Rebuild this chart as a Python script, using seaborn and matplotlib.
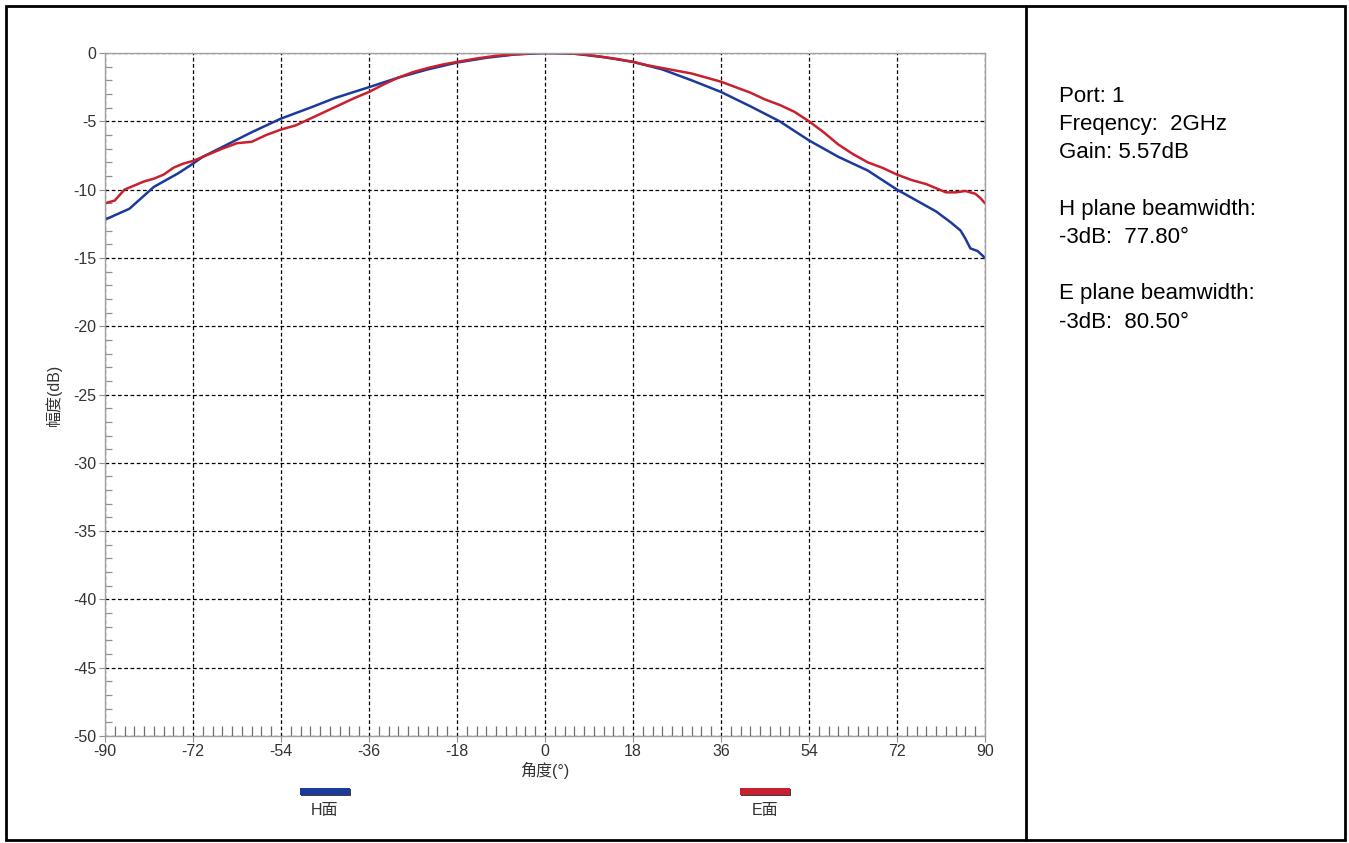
import numpy as np
import pandas as pd
import matplotlib
matplotlib.use("Agg")
import matplotlib.pyplot as plt
from matplotlib.patches import Rectangle
from matplotlib.ticker import MultipleLocator
import seaborn as sns

# H plane (blue) pattern
h_angle = [-90, -85, -80, -75, -72, -70, -65, -60, -54, -48, -43, -36, -30, -24,
           -18, -12, -6, 0, 6, 12, 18, 24, 30, 36, 42, 48, 54, 60, 66, 72,
           76, 80, 83, 85, 86, 87, 88.5, 90]
h_db = [-12.2, -11.4, -9.8, -8.8, -8.1, -7.6, -6.7, -5.8, -4.8, -4.0, -3.3, -2.5, -1.8, -1.2,
        -0.7, -0.35, -0.1, 0.0, -0.05, -0.3, -0.65, -1.2, -2.0, -2.85, -3.9, -5.0, -6.4, -7.6, -8.6, -10.0,
        -10.8, -11.6, -12.4, -13.0, -13.6, -14.3, -14.5, -15.0]

# E plane (red) pattern
e_angle = [-90, -88, -86, -84, -82, -80, -78, -76, -74, -72, -70, -68, -66, -63, -60,
           -57, -54, -51, -48, -45, -42, -39, -36, -33, -30, -27, -24, -21, -18, -14,
           -10, -6, -2, 0, 4, 8, 12, 15, 18, 21, 24, 27, 30, 33, 36, 39, 42, 45, 48,
           51, 54, 57, 60, 63, 66, 69, 72, 75, 78, 80, 82, 84, 86, 88, 89, 90]
e_db = [-11.0, -10.8, -10.0, -9.7, -9.4, -9.2, -8.9, -8.4, -8.1, -7.9, -7.6, -7.3, -7.0, -6.6, -6.5,
        -6.0, -5.6, -5.3, -4.8, -4.3, -3.8, -3.3, -2.85, -2.3, -1.8, -1.4, -1.1, -0.85, -0.65, -0.4,
        -0.2, -0.1, 0.0, 0.0, 0.0, -0.1, -0.3, -0.45, -0.65, -0.9, -1.1, -1.3, -1.5, -1.8, -2.1, -2.5, -2.9, -3.4, -3.8,
        -4.3, -5.0, -5.8, -6.7, -7.4, -8.0, -8.4, -8.9, -9.3, -9.6, -9.9, -10.2, -10.2, -10.1, -10.3, -10.6, -11.0]

series_names = ["H面", "E面"]
series_colors = ["#1c3a9c", "#c8202e"]

info_lines = ["Port: 1", "Freqency:  2GHz", "Gain: 5.57dB", "",
              "H plane beamwidth:", "-3dB:  77.80°", "",
              "E plane beamwidth:", "-3dB:  80.50°"]

df = pd.concat([
    pd.DataFrame({"angle": h_angle, "db": h_db, "plane": series_names[0]}),
    pd.DataFrame({"angle": e_angle, "db": e_db, "plane": series_names[1]}),
])

sns.set_style("white")
plt.rcParams["font.family"] = ["Liberation Sans", "Noto Sans CJK SC", "DejaVu Sans"]
plt.rcParams["axes.unicode_minus"] = False

fig = plt.figure(figsize=(13.49, 8.43), dpi=100)
ax = fig.add_axes([0.0778, 0.1269, 0.6524, 0.8102])

sns.lineplot(data=df, x="angle", y="db", hue="plane", palette=series_colors,
             hue_order=series_names, linewidth=1.8, ax=ax, legend=False,
             estimator=None, sort=False)

ax.set_xlim(-90, 90)
ax.set_ylim(-50, 0)
ax.xaxis.set_major_locator(MultipleLocator(18))
ax.xaxis.set_minor_locator(MultipleLocator(2))
ax.yaxis.set_major_locator(MultipleLocator(5))
ax.yaxis.set_minor_locator(MultipleLocator(1))
ax.grid(True, which="major", color="black", linestyle=(0, (3, 2)), linewidth=0.9)
ax.set_axisbelow(True)

for s in ax.spines.values():
    s.set_color("#a0a0a0")
    s.set_linewidth(1.0)

ax.tick_params(axis="both", which="both", bottom=True, left=True, top=False, right=False)
ax.tick_params(axis="both", which="major", direction="out", length=4, color="#909090",
               labelsize=11.5, labelcolor="#333333", pad=2)
ax.tick_params(axis="x", which="minor", direction="in", length=7, color="#707070", width=0.9)
ax.tick_params(axis="y", which="minor", direction="in", length=5, color="#909090", width=0.9)

ax.set_xlabel("角度(°)", fontsize=11.5, color="#333333", labelpad=2)
ax.set_ylabel("幅度(dB)", fontsize=11.5, color="#333333", labelpad=8)

# legend: colored bars with labels underneath
legend_x = [0.2409, 0.567]
for name, color, lx in zip(series_names, series_colors, legend_x):
    fig.patches.append(Rectangle((lx - 0.0185 + 0.001, 0.0575 - 0.002), 0.037, 0.008,
                                 transform=fig.transFigure, facecolor="#404040",
                                 edgecolor="none", zorder=1))
    fig.patches.append(Rectangle((lx - 0.0185, 0.0575), 0.037, 0.008,
                                 transform=fig.transFigure, facecolor=color,
                                 edgecolor="none", zorder=2))
    fig.text(lx, 0.048, name, ha="center", va="top", fontsize=11.5, color="#333333")

# outer frame and divider
fig.patches.append(Rectangle((0.0045, 0.004), 0.9925, 0.9885, transform=fig.transFigure,
                             fill=False, edgecolor="black", linewidth=2))
fig.add_artist(plt.Line2D([0.7605, 0.7605], [0.004, 0.9925], transform=fig.transFigure,
                          color="black", linewidth=2))

fig.text(0.785, 0.898, "\n".join(info_lines), ha="left", va="top", fontsize=16,
         linespacing=1.45, color="black")

fig.savefig("out.png", dpi=100)
